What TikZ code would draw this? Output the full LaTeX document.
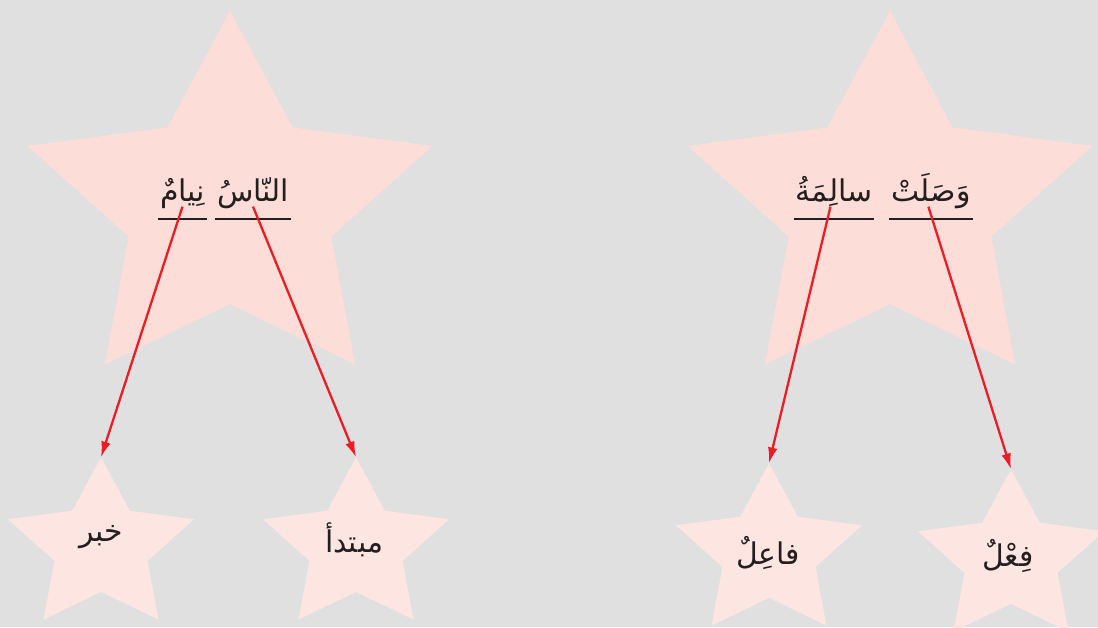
\documentclass[tikz,border=0pt]{standalone}
\usepackage{fontspec}
\usetikzlibrary{arrows.meta}
\newfontfamily\arabicfont[Script=Arabic]{DejaVu Sans}
\TeXXeTstate=1

\definecolor{bggray}{RGB}{224,224,224}
\definecolor{bigpink}{RGB}{253,221,215}
\definecolor{smallpink}{RGB}{253,230,226}
\definecolor{arrowred}{RGB}{237,28,36}
\definecolor{inkgray}{RGB}{35,31,32}

% star: centre x, centre y, x radius, y radius, fill
\newcommand{\pinkstar}[5]{%
  \fill[#5] ({#1},{#2-#4})
    \foreach \k in {1,...,9}{
      -- ({#1+(1-0.5*mod(\k,2))*#3*cos(90+36*\k)},{#2-(1-0.5*mod(\k,2))*#4*sin(90+36*\k)})
    } -- cycle;
}

\begin{document}
\begin{tikzpicture}[x=0.02cm,y=-0.02cm]
	\tikzset{>={Latex[length=9pt,width=5.5pt]}}
	\tikzset{
		word/.style={font=\arabicfont\fontsize{17}{19}\selectfont,text=inkgray,
			inner xsep=1pt,inner ysep=0pt,text depth=10pt,anchor=base},
		starword/.style={font=\arabicfont\fontsize{17}{19}\selectfont,text=inkgray},
		uline/.style={inkgray,line width=0.7pt},
		redarrow/.style={->,arrowred,line width=1.3pt}
	}
	
	\useasboundingbox (0,0) rectangle (1098,627);
	\fill[bggray] (0,0) rectangle (1098,627);
	
	% stars
	\pinkstar{230}{206.4}{213}{195.4}{bigpink}
	\pinkstar{890}{206.4}{213}{195.4}{bigpink}
	\pinkstar{101}{547}{97.8}{89.7}{smallpink}
	\pinkstar{356}{547}{97.8}{89.7}{smallpink}
	\pinkstar{769}{553}{97.8}{89.7}{smallpink}
	\pinkstar{1011}{559}{97.8}{89.7}{smallpink}
	
	\coordinate (tipkhabar) at (101,457.3);
	\coordinate (tipmubtada) at (356,457.3);
	\coordinate (tipfail) at (769,463.3);
	\coordinate (tipfil) at (1011,469.3);
	
	% sentences
	\node[word] (nas) at (253,201) {\beginR النّاسُ\endR};
	\node[word] (niyam) at (182.5,201) {\beginR نِيامٌ\endR};
	\node[word] (wasalat) at (931,201) {\beginR وَصَلَتْ\endR};
	\node[word] (salima) at (834,201) {\beginR سالِمَةُ\endR};
	
	\foreach \w in {nas,niyam,wasalat,salima}
		\draw[uline] (\w.south west) -- (\w.south east);
	
	% labels
	\node[starword] (khabar) at (101,537) {\beginR خبر\endR};
	\node[starword] (mubtada) at (354,540) {\beginR مبتدأ\endR};
	\node[starword] (fail) at (768,553) {\beginR فاعِلٌ\endR};
	\node[starword] (fil) at (1008,556) {\beginR فِعْلٌ\endR};
	
	\draw[redarrow] ([yshift=7pt]niyam.south) -- (tipkhabar);
	\draw[redarrow] ([yshift=7pt]nas.south) -- (tipmubtada);
	\draw[redarrow] ([xshift=-2pt,yshift=7pt]salima.south) -- (tipfail);
	\draw[redarrow] ([xshift=-1.5pt,yshift=7pt]wasalat.south) -- (tipfil);
	
\end{tikzpicture}
\end{document}
